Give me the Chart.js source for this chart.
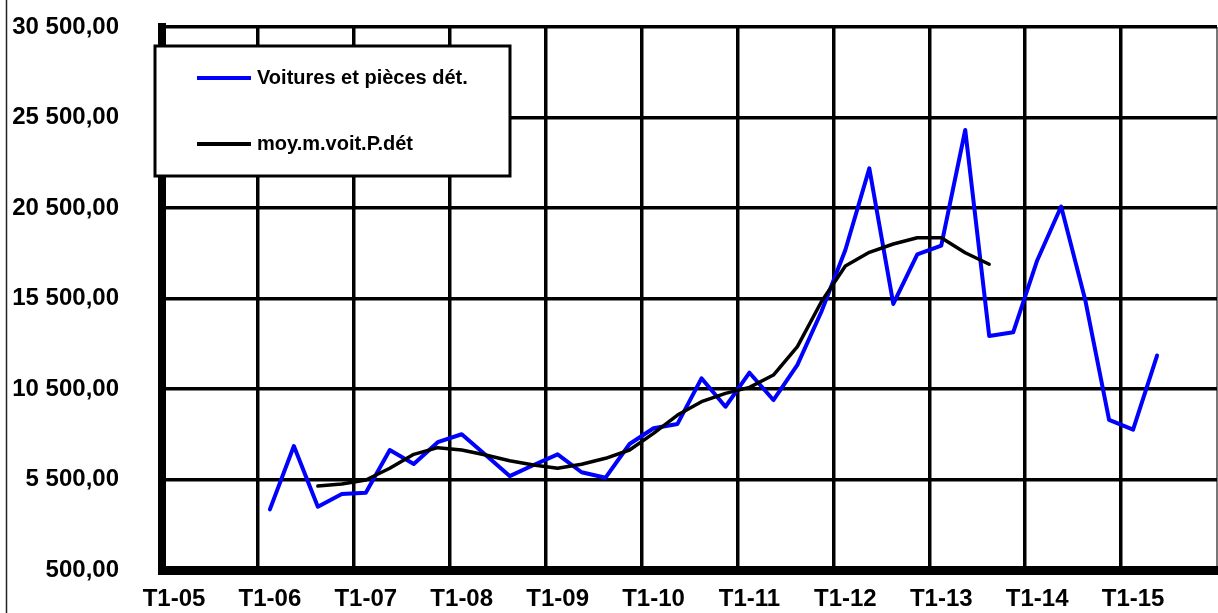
<!DOCTYPE html>
<html>
<head>
<meta charset="utf-8">
<script src="https://cdn.jsdelivr.net/npm/chart.js@4/dist/chart.umd.min.js"></script>
<style>
  html, body { margin: 0; padding: 0; background: #fff; }
</style>
</head>
<body>
<canvas id="mycanvas" width="1218" height="613"></canvas>
<script>
// quarters T1-05 .. T4-15
const years = ['05','06','07','08','09','10','11','12','13','14','15'];
const labels = [];
years.forEach(function(y) {
  for (let q = 1; q <= 4; q++) labels.push('T' + q + '-' + y);
});

// Voitures et pièces dét.
const voitures = [
  null, null, null, null,
  3850, 7350, 4000, 4700,
  4770, 7130, 6360, 7560,
  8000, 6850, 5690, 6300,
  6890, 5900, 5600, 7460,
  8330, 8570, 11090, 9520,
  11400, 9890, 11830, 14770,
  18180, 22690, 15200, 17940,
  18420, 24810, 13430, 13630,
  17600, 20580, 15450, 8790,
  8250, 12350, null, null
];

// moy.m.voit.P.dét (moving average)
const moyenne = [
  null, null, null, null,
  null, null, 5140, 5250,
  5470, 6120, 6890, 7260,
  7130, 6850, 6540, 6300,
  6120, 6340, 6670, 7130,
  8050, 9060, 9800, 10260,
  10590, 11270, 12840, 15320,
  17300, 18050, 18510, 18860,
  18860, 18030, 17390, null,
  null, null, null, null,
  null, null, null, null
];

const FONT = "'Liberation Sans', Arial, sans-serif";

function frNumber(v) {
  const s = Math.round(v).toString();
  return s.replace(/\B(?=(\d{3})+(?!\d))/g, ' ') + ',00';
}

// white background + thin frame line on the left
const frame = {
  id: 'frame',
  beforeDraw: function(chart) {
    const c = chart.ctx;
    c.save();
    c.fillStyle = '#fff';
    c.fillRect(0, 0, chart.width, chart.height);
    c.strokeStyle = '#222';
    c.lineWidth = 1.5;
    c.beginPath();
    c.moveTo(6.5, 0);
    c.lineTo(6.5, chart.height);
    c.stroke();
    c.restore();
  }
};

// boxed legend sitting inside the plot, top left
const boxLegend = {
  id: 'boxLegend',
  afterDraw: function(chart) {
    const c = chart.ctx;
    const ds = chart.data.datasets;
    c.save();
    c.fillStyle = '#fff';
    c.fillRect(155, 46, 355, 130);
    c.strokeStyle = '#000';
    c.lineWidth = 3;
    c.strokeRect(155, 46, 355, 130);
    c.font = 'bold 20px ' + FONT;
    c.textBaseline = 'middle';
    c.fillStyle = '#000';
    ds.forEach(function(d, i) {
      const y = 78 + i * 66;
      c.strokeStyle = d.borderColor;
      c.lineWidth = 4;
      c.beginPath();
      c.moveTo(197, y);
      c.lineTo(251, y);
      c.stroke();
      c.fillText(d.label, 257, y);
    });
    c.restore();
  }
};

const data = {
  labels: labels,
  datasets: [
    {
      label: 'Voitures et pièces dét.',
      data: voitures,
      borderColor: '#0000ff',
      borderWidth: 4,
      borderJoinStyle: 'round',
      borderCapStyle: 'round',
      pointRadius: 0,
      tension: 0,
      order: 2
    }, {
      label: 'moy.m.voit.P.dét',
      data: moyenne,
      borderColor: '#000000',
      borderWidth: 3.5,
      borderJoinStyle: 'round',
      borderCapStyle: 'round',
      pointRadius: 0,
      tension: 0,
      order: 1
    }
  ]
};

const config = {
  type: 'line',
  data: data,
  options: {
    responsive: false,
    animation: false,
    layout: { padding: { top: 27, right: 1, bottom: 0, left: 0 } },
    plugins: {
      legend: { display: false },
      tooltip: { enabled: false }
    },
    scales: {
      x: {
        type: 'category',
        offset: true,
        afterFit: function(s) { s.height = 43; s.paddingLeft = 0; s.paddingRight = 0; },
        border: { display: true, color: '#000', width: 9 },
        grid: {
          offset: true,
          drawTicks: false,
          color: function(ctx) {
            if (ctx.index === undefined) return '#777';
            return ctx.index % 4 === 0 ? '#000' : 'rgba(0,0,0,0)';
          },
          lineWidth: function(ctx) {
            if (ctx.index === undefined) return 2;
            return ctx.index % 4 === 0 ? 3.5 : 0;
          }
        },
        ticks: {
          autoSkip: false,
          maxRotation: 0,
          padding: 15,
          color: '#000',
          font: { family: FONT, size: 24, weight: 'bold' },
          callback: function(v, i) { return i % 4 === 0 ? labels[i] : ''; }
        }
      },
      y: {
        min: 500,
        max: 30500,
        afterFit: function(s) { s.width = 162; s.paddingTop = 0; s.paddingBottom = 0; },
        border: { display: true, color: '#000', width: 8 },
        grid: { color: '#000', lineWidth: 3.5, drawTicks: false },
        ticks: {
          stepSize: 5000,
          padding: 43,
          color: '#000',
          font: { family: FONT, size: 24, weight: 'bold' },
          callback: function(v) { return frNumber(v); }
        }
      }
    }
  },
  plugins: [frame, boxLegend]
};

const myChart = new Chart(document.getElementById('mycanvas'), config);
</script>
</body>
</html>
